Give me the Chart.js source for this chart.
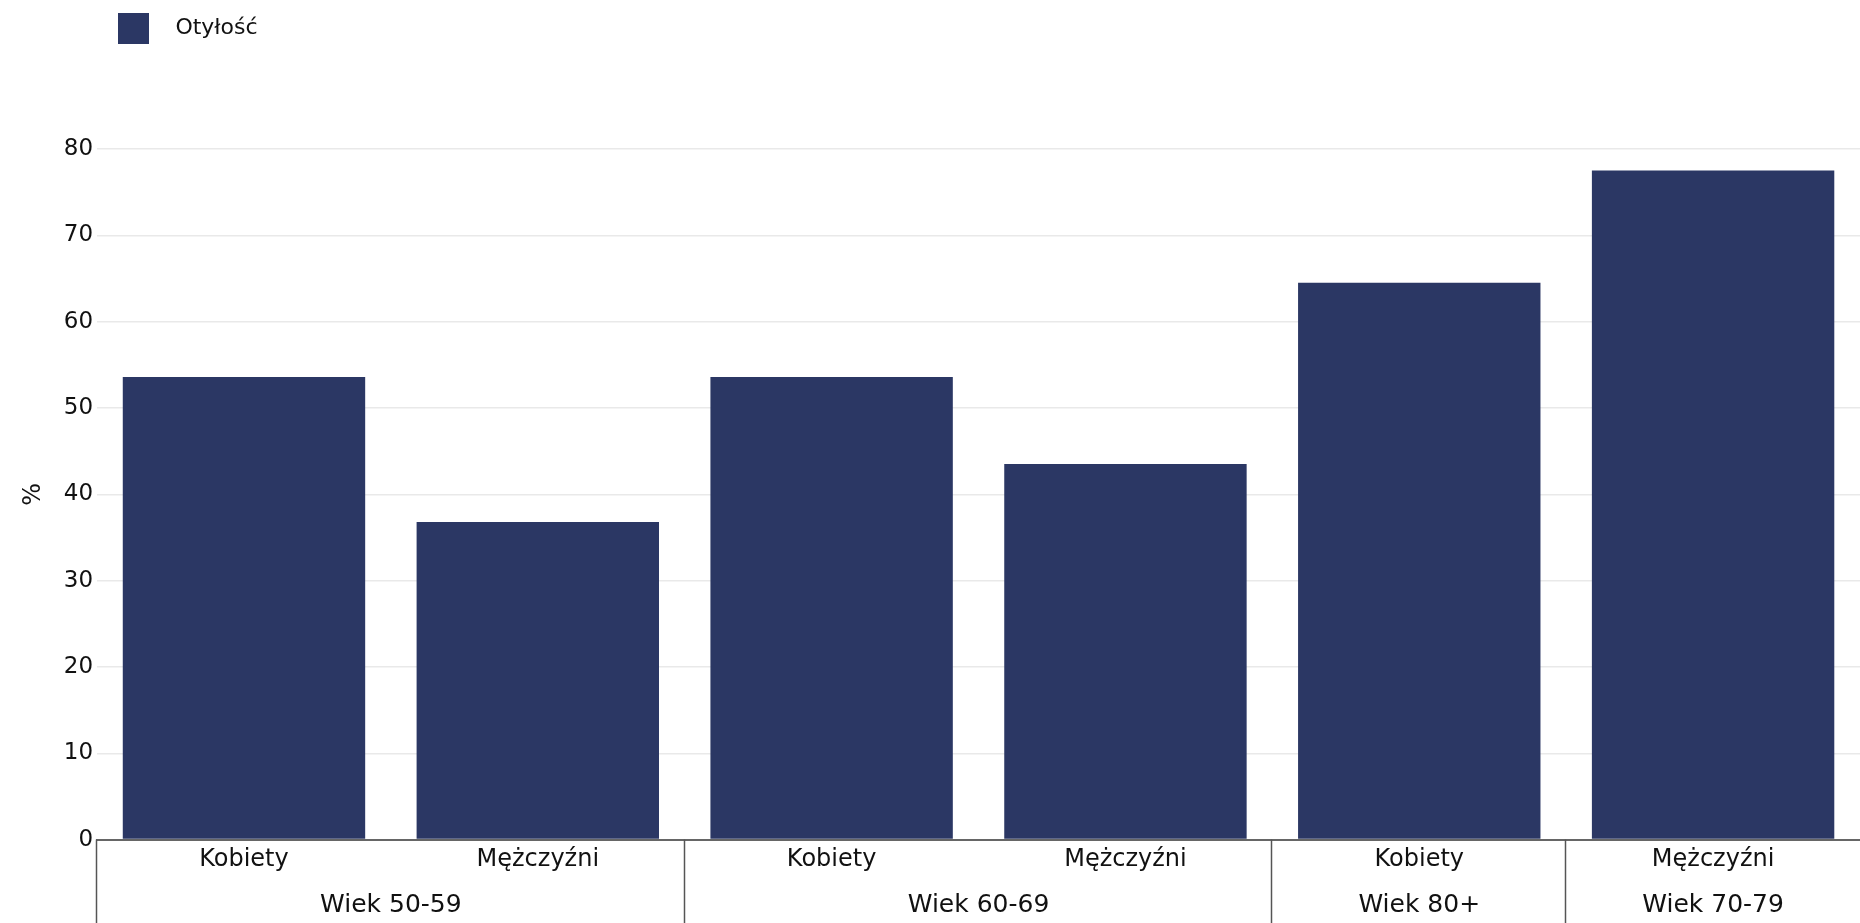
<!DOCTYPE html>
<html>
<head>
<meta charset="utf-8">
<script src="https://cdn.jsdelivr.net/npm/chart.js@4.4.0/dist/chart.umd.min.js"></script>
<style>
html, body { margin: 0; padding: 0; background: #fff; }
#wrap { width: 1860px; height: 923px; position: relative; }
</style>
</head>
<body>
<div id="wrap"><canvas id="chart"></canvas></div>
<script>
const seriesLabel = "Otyłość";
const categories = ["Kobiety", "Mężczyźni", "Kobiety", "Mężczyźni", "Kobiety", "Mężczyźni"];
const obesity = [53.6, 36.8, 53.6, 43.5, 64.5, 77.5];
const groupNames = ["Wiek 50-59", "Wiek 60-69", "Wiek 80+", "Wiek 70-79"];
const groupSizes = [2, 2, 1, 1];
const yTicks = [0, 10, 20, 30, 40, 50, 60, 70, 80];

const FONT = "'DejaVu Sans', sans-serif";
const BAR = "#2b3764";

// group centres / borders in category units
const groupCenters = [];
const groupEdges = [-0.5];
let pos = 0;
groupSizes.forEach(function(n, i) {
	groupCenters.push(pos + (n - 1) / 2);
	pos += n;
	if (i < groupSizes.length - 1) {
		groupEdges.push(pos - 0.5);
	}
});

const groupDividers = {
	id: "groupDividers",
	afterLayout: function(chart) {
		chart.legend.left = 105;
	},
	afterDraw: function(chart) {
		const sx = chart.scales.groups;
		const top = chart.scales.x.top;
		const ctx = chart.ctx;
		ctx.save();
		ctx.strokeStyle = "#555";
		ctx.lineWidth = 1.5;
		groupEdges.forEach(function(e) {
			const px = Math.round(sx.getPixelForValue(e)) - 0.5;
			ctx.beginPath();
			ctx.moveTo(px, top);
			ctx.lineTo(px, chart.height);
			ctx.stroke();
		});
		ctx.restore();
	}
};

const ctx = document.getElementById("chart").getContext("2d");
new Chart(ctx, {
	type: "bar",
	data: {
		labels: categories,
		datasets: [{
			label: seriesLabel,
			data: obesity,
			backgroundColor: BAR,
			borderWidth: 0,
			categoryPercentage: 1,
			barPercentage: 0.825
		}]
	},
	options: {
		responsive: true,
		maintainAspectRatio: false,
		animation: false,
		layout: { padding: { left: 0, right: 0, top: 0, bottom: -8 } },
		plugins: {
			legend: {
				display: true,
				position: "top",
				align: "start",
				labels: {
					boxWidth: 31,
					boxHeight: 31,
					padding: 13,
					color: "#111",
					font: { family: FONT, size: 22 },
					generateLabels: function(chart) {
						const items = Chart.defaults.plugins.legend.labels.generateLabels(chart);
						items.forEach(function(it) { it.text = "\u2002\u2009" + it.text; it.lineWidth = 0; });
						return items;
					}
				}
			},
			title: {
				display: true,
				text: "",
				weight: 500,
				font: { size: 10, lineHeight: 1 },
				padding: { top: 85, bottom: 0 }
			},
			tooltip: { enabled: false }
		},
		scales: {
			y: {
				min: 0,
				max: 80,
				afterBuildTicks: function(axis) {
					axis.ticks = yTicks.map(function(v) { return { value: v }; });
				},
				grid: { color: "#e9e9e9", lineWidth: 1.5, drawTicks: false },
				border: { display: false },
				ticks: { color: "#111", padding: 4, font: { family: FONT, size: 23 } },
				title: {
					display: true,
					text: "%",
					color: "#111",
					font: { family: FONT, size: 24 },
					padding: { top: 19, bottom: 12 }
				}
			},
			x: {
				weight: 0,
				grid: { display: false, drawTicks: false },
				border: { display: true, color: "#666", width: 2 },
				ticks: { color: "#111", padding: 5.5, maxRotation: 0, autoSkip: false, font: { family: FONT, size: 24 } }
			},
			groups: {
				type: "linear",
				position: "bottom",
				axis: "x",
				weight: 1,
				offset: false,
				min: -0.5,
				max: 5.5,
				afterBuildTicks: function(axis) {
					axis.ticks = groupCenters.map(function(v) { return { value: v }; });
				},
				grid: { display: false, drawTicks: false, offset: false },
				border: { display: false },
				ticks: {
					color: "#111",
					padding: 13.3,
					maxRotation: 0,
					autoSkip: false,
					font: { family: FONT, size: 25, lineHeight: 1 },
					callback: function(value) {
						return groupNames[groupCenters.indexOf(value)];
					}
				}
			}
		}
	},
	plugins: [groupDividers]
});
</script>
</body>
</html>
